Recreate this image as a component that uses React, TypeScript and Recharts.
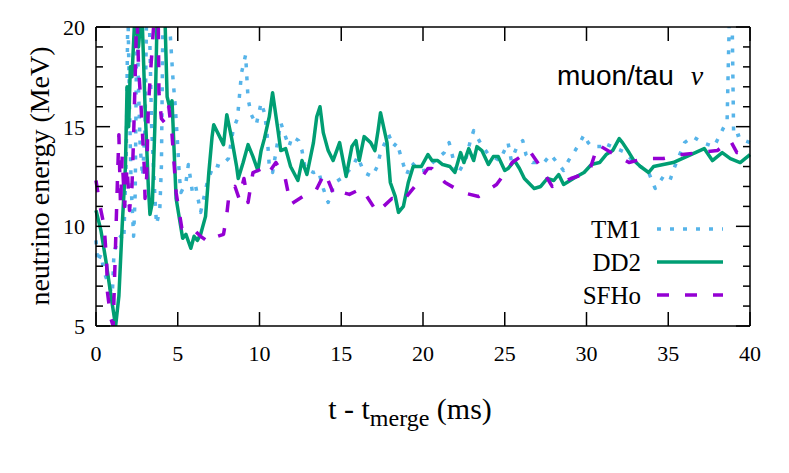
import { LineChart, Line, XAxis, YAxis, ReferenceLine } from "recharts";

// [t - t_merge (ms), mean energy (MeV)]
const tm1: [number, number][] = [
  [0, 9.3], [0.1, 8.2], [0.3, 8.6], [0.5, 7.7], [0.8, 7.0], [1.0, 6.6], [1.1, 8.7], [1.3, 9.2],
  [1.5, 9.5], [1.7, 9.3], [1.85, 13.5], [1.95, 21], [2.05, 16], [2.15, 12], [2.3, 9.5], [2.4, 11.7],
  [2.5, 21], [2.6, 17], [2.7, 14], [2.85, 12.5], [3.0, 15], [3.1, 21], [3.25, 21], [3.4, 15],
  [3.6, 11.5], [3.7, 10.1], [3.9, 10.8], [4.0, 13], [4.1, 21], [4.3, 21], [4.55, 19.5], [4.7, 17.5],
  [4.85, 16], [5.0, 14], [5.1, 12.5], [5.2, 11.7], [5.5, 12.2], [5.65, 13.1], [5.9, 11.7], [6.1, 12.0],
  [6.4, 10.7], [6.8, 12.2], [7.2, 13.1], [7.6, 13.0], [8.1, 13.4], [8.4, 14.9], [8.65, 15.4], [8.9, 17.7],
  [9.15, 18.6], [9.3, 16.4], [9.5, 15.6], [9.8, 15.1], [10.1, 16.2], [10.3, 15.7], [10.45, 14.8], [10.6, 13.0],
  [10.8, 12.7], [11.3, 15.2], [11.8, 14.0], [12.0, 14.5], [12.4, 14.3], [12.6, 13.8], [12.8, 12.9], [13.3, 12.7],
  [13.6, 12.8], [13.9, 11.9], [14.2, 11.2], [14.6, 12.2], [15.0, 12.4], [15.7, 13.0], [16.0, 13.5], [16.4, 12.7],
  [16.9, 12.5], [17.2, 13.0], [17.4, 13.7], [17.9, 14.6], [18.2, 14.0], [18.4, 14.2], [18.8, 13.1], [19.0, 12.6],
  [19.3, 13.2], [19.8, 12.8], [20.1, 12.8], [20.6, 13.2], [21.3, 13.7], [21.6, 14.2], [21.9, 13.2], [22.1, 12.6],
  [22.6, 13.3], [22.9, 14.3], [23.1, 14.8], [23.5, 14.2], [24.0, 13.6], [24.7, 13.3], [25.2, 14.2], [25.4, 13.3],
  [25.7, 13.9], [26.1, 14.3], [26.3, 13.6], [26.7, 13.2], [27.4, 13.2], [27.8, 13.6], [28.2, 13.2], [28.6, 12.8],
  [28.9, 13.3], [29.3, 13.8], [29.6, 14.2], [29.85, 14.6], [30.1, 14.2], [30.3, 14.0], [30.9, 14.0], [31.0, 14.2],
  [32.4, 13.7], [32.8, 13.3], [33.8, 12.7], [34.2, 11.9], [34.7, 12.5], [35.1, 12.3], [35.4, 13.0], [36.0, 14.2],
  [36.5, 14.5], [37.1, 14.2], [37.8, 14.0], [38.6, 15.3], [38.75, 21], [38.9, 21], [39.0, 14.5], [39.4, 14.6],
  [39.7, 14.3], [40, 14.2],
];

const dd2: [number, number][] = [
  [0, 10.8], [0.3, 9.8], [0.6, 8.3], [0.9, 6.6], [1.2, 5.0], [1.4, 6.5], [1.6, 10.0], [1.8, 13.0],
  [1.9, 17.0], [2.0, 15.0], [2.1, 18.0], [2.2, 17.5], [2.4, 21], [2.6, 19.0], [2.8, 21], [3.0, 16.0],
  [3.2, 12.0], [3.3, 10.6], [3.45, 11.2], [3.6, 15.0], [3.75, 21], [4.2, 21], [4.35, 16.5], [4.5, 16.0],
  [4.65, 16.3], [4.9, 11.4], [5.3, 9.4], [5.5, 9.6], [5.8, 8.9], [6.0, 9.5], [6.2, 9.3], [6.4, 9.6],
  [6.7, 10.5], [6.9, 12.7], [7.1, 14.5], [7.2, 15.1], [7.5, 14.6], [7.8, 14.1], [8.0, 15.6], [8.3, 14.4],
  [8.6, 13.0], [8.7, 12.4], [9.0, 13.2], [9.3, 14.1], [9.6, 13.5], [9.9, 12.8], [10.1, 13.8], [10.3, 14.4],
  [10.6, 15.5], [10.8, 16.7], [11.1, 15.0], [11.3, 13.8], [11.6, 13.9], [11.9, 13.0], [12.35, 12.3], [12.6, 13.3],
  [12.9, 12.6], [13.3, 14.2], [13.5, 15.5], [13.7, 16.0], [13.9, 14.7], [14.2, 13.8], [14.5, 13.3], [14.9, 14.2],
  [15.3, 12.5], [15.65, 14.0], [15.9, 14.3], [16.1, 13.3], [16.4, 14.5], [16.8, 14.2], [17.06, 13.8], [17.25, 14.8],
  [17.4, 15.7], [17.8, 14.2], [18.0, 12.2], [18.3, 11.5], [18.5, 10.7], [18.8, 11.0], [19.1, 12.2], [19.4, 13.0],
  [19.9, 13.0], [20.3, 13.6], [20.55, 13.3], [20.9, 13.3], [21.2, 13.1], [21.65, 13.0], [21.95, 12.7], [22.3, 13.7],
  [22.5, 13.2], [22.8, 13.9], [23.1, 13.3], [23.3, 14.0], [23.6, 13.8], [24.0, 13.1], [24.3, 13.5], [24.6, 13.5],
  [25.0, 12.8], [25.2, 12.9], [25.6, 13.3], [25.9, 12.9], [26.2, 12.4], [26.8, 11.9], [27.2, 12.0], [27.6, 12.4],
  [28.0, 12.3], [28.3, 12.6], [28.6, 12.1], [29.0, 12.3], [29.4, 12.5], [29.85, 12.7], [30.3, 13.1], [30.8, 13.2],
  [31.2, 13.6], [31.6, 13.8], [32.0, 14.4], [32.2, 14.2], [32.6, 13.7], [32.9, 13.3], [33.3, 13.0], [33.8, 12.7],
  [34.1, 13.0], [35.3, 13.2], [37.2, 13.9], [37.7, 13.3], [38.3, 13.7], [38.8, 13.4], [39.4, 13.2], [40, 13.6],
];

const sfho: [number, number][] = [
  [0, 12.3], [0.25, 11.0], [0.5, 10.0], [0.65, 8.2], [0.7, 6.7], [0.9, 5.4], [1.05, 5.0], [1.1, 6.4],
  [1.2, 9.2], [1.3, 12.0], [1.4, 14.6], [1.5, 11.0], [1.6, 13.5], [1.75, 11.0], [1.9, 13.0], [2.05, 10.8],
  [2.2, 12.0], [2.3, 14.5], [2.4, 17.6], [2.5, 21], [2.6, 18.0], [2.75, 16.1], [2.95, 13.0], [3.0, 11.4],
  [3.1, 12.5], [3.2, 16.0], [3.4, 18.5], [3.6, 21], [3.8, 21], [3.85, 16.7], [4.0, 15.4], [4.2, 15.2],
  [4.45, 16.0], [4.65, 14.6], [4.9, 11.7], [5.25, 9.9], [5.5, 10.0], [5.9, 9.9], [6.4, 9.5], [6.9, 9.2],
  [7.1, 9.4], [7.8, 9.6], [8.0, 10.6], [8.15, 11.7], [8.5, 12.0], [8.75, 11.4], [9.05, 12.4], [9.3, 11.2],
  [9.6, 12.7], [10.2, 12.9], [10.5, 12.6], [11.0, 13.2], [11.55, 12.5], [11.9, 11.1], [12.65, 11.5], [13.45, 11.8],
  [14.0, 12.7], [14.6, 11.5], [15.1, 11.7], [15.5, 11.6], [16.25, 11.9], [17.2, 10.7], [18.1, 11.4], [18.8, 11.3],
  [19.6, 12.1], [20.3, 12.9], [20.55, 12.9], [21.35, 12.2], [22.4, 11.7], [23.4, 11.5], [24.5, 12.1], [25.3, 13.0],
  [25.45, 13.2], [26.5, 13.8], [27.1, 13.1], [27.9, 12.0], [29.05, 12.4], [30.15, 12.7], [30.7, 14.1], [31.5, 13.7],
  [32.6, 13.2], [33.5, 13.4], [34.7, 13.4], [35.85, 13.6], [36.9, 13.7], [38.0, 13.8], [38.8, 14.3], [39.2, 13.7],
  [40, 13.7],
];

const xTicks = [0, 5, 10, 15, 20, 25, 30, 35, 40];
const yMajorTicks = [5, 10, 15, 20];
const yAllTicks = [5, 6, 7, 8, 9, 10, 11, 12, 13, 14, 15, 16, 17, 18, 19, 20];

const SERIF = '"Liberation Serif", "Times New Roman", serif';
const SANS = '"Liberation Sans", Arial, sans-serif';

const series = [
  { name: "TM1", points: tm1, color: "#56B4E9", dash: "4 9" },
  { name: "DD2", points: dd2, color: "#009E73", dash: undefined },
  { name: "SFHo", points: sfho, color: "#9400D3", dash: "12 16" },
];

const toRows = (pts: [number, number][]) => pts.map(([t, e]) => ({ t, e }));

// inward tick lengths, in axis units (about 14 px major / 7 px minor)
const X_MIN = 0;
const X_MAX = 40;
const Y_MIN = 5;
const Y_MAX = 20;
const TICK_DY = 0.7;
const TICK_DX_MAJOR = 0.86;
const TICK_DX_MINOR = 0.43;

const frame = { stroke: "#000", strokeWidth: 1.5 };

function BottomLabel({ x, y, payload }: any) {
  return (
    <text x={x} y={y + 35} textAnchor="middle" fontFamily={SERIF} fontSize={22} fill="#000">
      {payload.value}
    </text>
  );
}

function LeftLabel({ x, y, payload }: any) {
  return (
    <text x={x - 11} y={y + 8} textAnchor="end" fontFamily={SERIF} fontSize={22} fill="#000">
      {payload.value}
    </text>
  );
}

function NoLabel() {
  return null;
}

function tickSeg(key: string, a: { x: number; y: number }, b: { x: number; y: number }) {
  return (
    <ReferenceLine
      key={key}
      segment={[a, b]}
      stroke="#000"
      strokeWidth={1.5}
      ifOverflow="visible"
    />
  );
}

export default function App() {
  const ticks = [
    ...xTicks.map((t) => tickSeg(`b${t}`, { x: t, y: Y_MIN }, { x: t, y: Y_MIN + TICK_DY })),
    ...xTicks.map((t) => tickSeg(`t${t}`, { x: t, y: Y_MAX }, { x: t, y: Y_MAX - TICK_DY })),
    ...yAllTicks.map((e) => {
      const len = yMajorTicks.includes(e) ? TICK_DX_MAJOR : TICK_DX_MINOR;
      return tickSeg(`l${e}`, { x: X_MIN, y: e }, { x: X_MIN + len, y: e });
    }),
    ...yAllTicks.map((e) => {
      const len = yMajorTicks.includes(e) ? TICK_DX_MAJOR : TICK_DX_MINOR;
      return tickSeg(`r${e}`, { x: X_MAX, y: e }, { x: X_MAX - len, y: e });
    }),
  ];

  return (
    <div style={{ position: "absolute", left: 0, top: 0, width: 789, height: 473, background: "#fff" }}>
      <LineChart width={789} height={473} margin={{ top: 26, right: 38, bottom: 0, left: 0 }}>
        <XAxis
          dataKey="t"
          type="number"
          domain={[X_MIN, X_MAX]}
          ticks={xTicks}
          interval={0}
          height={147}
          tickSize={0}
          tickMargin={0}
          tickLine={false}
          tick={<BottomLabel />}
          axisLine={frame}
        />
        <XAxis
          xAxisId="top"
          orientation="top"
          type="number"
          domain={[X_MIN, X_MAX]}
          ticks={xTicks}
          height={1}
          tickSize={0}
          tickLine={false}
          tick={<NoLabel />}
          axisLine={frame}
        />
        <YAxis
          type="number"
          domain={[Y_MIN, Y_MAX]}
          ticks={yMajorTicks}
          interval={0}
          allowDataOverflow
          width={96}
          tickSize={0}
          tickMargin={0}
          tickLine={false}
          tick={<LeftLabel />}
          axisLine={frame}
        />
        <YAxis
          yAxisId="right"
          orientation="right"
          type="number"
          domain={[Y_MIN, Y_MAX]}
          ticks={yMajorTicks}
          width={1}
          tickSize={0}
          tickLine={false}
          tick={<NoLabel />}
          axisLine={frame}
        />
        {series.map((s) => (
          <Line
            key={s.name}
            name={s.name}
            data={toRows(s.points)}
            dataKey="e"
            type="linear"
            dot={false}
            activeDot={false}
            stroke={s.color}
            strokeWidth={3.5}
            strokeDasharray={s.dash}
            strokeLinejoin="round"
            isAnimationActive={false}
          />
        ))}
        {ticks}
      </LineChart>
      {/* axis titles, panel label and key */}
      <svg
        width={789}
        height={473}
        style={{ position: "absolute", left: 0, top: 0, pointerEvents: "none" }}
      >
        <text x={410} y={419} textAnchor="middle" fontFamily={SERIF} fontSize={30} fill="#000">
          t - t
          <tspan fontSize={24} dy={7}>merge</tspan>
          <tspan dy={-7}> (ms)</tspan>
        </text>
        <text
          x={49}
          y={176}
          transform="rotate(-90 49 176)"
          textAnchor="middle"
          fontFamily={SERIF}
          fontSize={28}
          fill="#000"
        >
          neutrino energy (MeV)
        </text>
        <text x={557} y={85} fontFamily={SANS} fontSize={28} fill="#000">
          muon/tau
          <tspan dx={17} fontFamily={SERIF} fontStyle="italic">ν</tspan>
        </text>
        {series.map((s, i) => (
          <g key={s.name} transform={`translate(0, ${229 + i * 33})`}>
            <text x={641} y={9} textAnchor="end" fontFamily={SERIF} fontSize={25} fill="#000">
              {s.name}
            </text>
            <line x1={657} x2={723} y1={0} y2={0} stroke={s.color} strokeWidth={3.5} strokeDasharray={s.dash} />
          </g>
        ))}
      </svg>
    </div>
  );
}
